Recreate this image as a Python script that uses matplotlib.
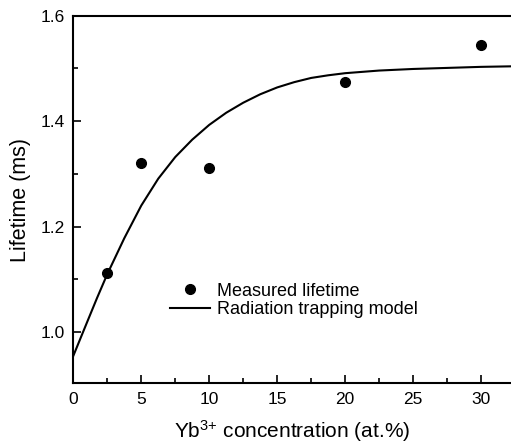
import matplotlib
matplotlib.use("Agg")
import matplotlib.pyplot as plt
from matplotlib.ticker import MultipleLocator

plt.rcParams['font.family'] = ['Liberation Sans', 'DejaVu Sans']
plt.rcParams['mathtext.fontset'] = 'custom'
plt.rcParams['mathtext.rm'] = 'Liberation Sans'
plt.rcParams['mathtext.default'] = 'regular'

# Measured data
conc = [2.5, 5, 10, 20, 30]
lifetime = [1.112, 1.320, 1.311, 1.474, 1.545]

# Radiation trapping model curve
model_x = [0, 1, 1.75, 2.5, 3.75, 5, 6.25, 7.5, 8.75, 10, 11.25, 12.5, 13.75, 15,
           16.25, 17.5, 18.75, 20, 22.5, 25, 27.5, 30, 32.2]
model_y = [0.955, 1.018, 1.065, 1.11, 1.178, 1.24, 1.291, 1.332, 1.365, 1.393, 1.416,
           1.435, 1.451, 1.464, 1.474, 1.482, 1.487, 1.491, 1.496, 1.499, 1.501, 1.503, 1.504]

fig = plt.figure(figsize=(5.11, 4.44), dpi=100)
ax = fig.add_axes([73.3/511, 60.7/444, 1 - 73.3/511, (383.3-15.7)/444])

ax.plot(model_x, model_y, color='black', lw=1.5, label='Radiation trapping model')
ax.plot(conc, lifetime, 'o', color='black', ms=7, label='Measured lifetime')

ax.set_xlim(0, 32.2)
ax.set_ylim(0.903, 1.6)
ax.xaxis.set_major_locator(MultipleLocator(5))
ax.xaxis.set_minor_locator(MultipleLocator(2.5))
ax.yaxis.set_minor_locator(MultipleLocator(0.1))
ax.set_yticks([1.0, 1.2, 1.4, 1.6])
ax.set_yticklabels(['1.0', '1.2', '1.4', '1.6'])
ax.tick_params(which='both', direction='in', width=1.2, labelsize=12.5, top=False, right=False)
ax.tick_params(which='major', length=6, pad=6)
ax.tick_params(which='minor', length=3.5)
ax.spines['right'].set_visible(False)
for s in ['left', 'bottom', 'top']:
    ax.spines[s].set_linewidth(1.5)

ax.set_xlabel('Yb$^{3{+}}$ concentration (at.%)', fontsize=15, labelpad=8)
ax.set_ylabel('Lifetime (ms)', fontsize=15.5, labelpad=7)

handles, labels = ax.get_legend_handles_labels()
ax.legend([handles[1], handles[0]], [labels[1], labels[0]], loc='upper left',
          bbox_to_anchor=(0.221, 0.274), frameon=False, fontsize=13,
          handlelength=2.2, handletextpad=0.4, labelspacing=0.1, borderaxespad=0,
          borderpad=0)

fig.savefig('out.png', dpi=100)
